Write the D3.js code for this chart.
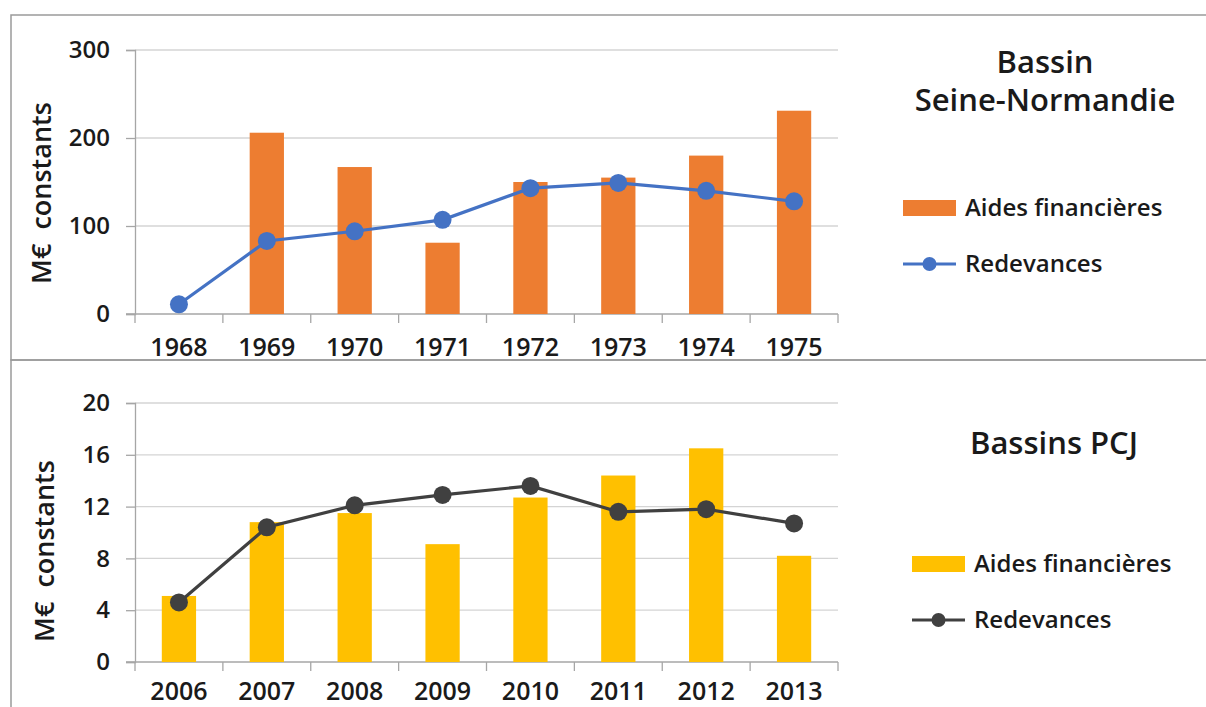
<!DOCTYPE html>
<html>
<head>
<meta charset="utf-8">
<script src="https://cdn.jsdelivr.net/npm/d3@7"></script>
<style>
  body { margin: 0; background: #fff; }
  text { font-family: "Open Sans", sans-serif; fill: #1a1a1a; }
</style>
</head>
<body>
<div id="chart"></div>
<script>
// top panel : Bassin Seine-Normandie
const yearsSN = ["1968", "1969", "1970", "1971", "1972", "1973", "1974", "1975"];
const aidesSN = [null, 206, 167, 81, 150, 155, 180, 231];
const redevSN = [11, 83, 94, 107, 143, 149, 140, 128];
const ticksSN = [0, 100, 200, 300];

// bottom panel : Bassins PCJ
const yearsPCJ = ["2006", "2007", "2008", "2009", "2010", "2011", "2012", "2013"];
const aidesPCJ = [5.1, 10.8, 11.5, 9.1, 12.7, 14.4, 16.5, 8.2];
const redevPCJ = [4.6, 10.4, 12.1, 12.9, 13.6, 11.6, 11.8, 10.7];
const ticksPCJ = [0, 4, 8, 12, 16, 20];

const legendLabels = ["Aides financières", "Redevances"];

const svg = d3
  .select("#chart")
  .append("svg")
  .attr("width", 1206)
  .attr("height", 707);

svg.append("rect").attr("width", 1206).attr("height", 707).attr("fill", "#fff");

// panel frames
svg.append("rect")
  .attr("x", 11).attr("y", 15).attr("width", 1210).attr("height", 345)
  .attr("fill", "none").attr("stroke", "#9a9a9a").attr("stroke-width", 1.5);
svg.append("rect")
  .attr("x", 11).attr("y", 360).attr("width", 1210).attr("height", 360)
  .attr("fill", "none").attr("stroke", "#9a9a9a").attr("stroke-width", 1.5);

function drawPanel(cfg) {
  const g = svg.append("g");

  const x = d3.scaleBand().domain(cfg.years).range([135, 838]);
  const y = d3.scaleLinear().domain(cfg.domain).range([cfg.y0, cfg.y1]);
  const step = x.step();
  const barW = step * 0.39;

  // gridlines
  g.selectAll("line.grid")
    .data(cfg.ticks.filter((t) => t > 0))
    .enter()
    .append("line")
    .attr("x1", 135)
    .attr("x2", 838)
    .attr("y1", (d) => y(d))
    .attr("y2", (d) => y(d))
    .attr("stroke", "#d4d4d4")
    .attr("stroke-width", 1.3);

  // y axis
  const yAxis = g.append("g")
    .attr("transform", "translate(135,0)")
    .call(d3.axisLeft(y).tickValues(cfg.ticks).tickSize(9).tickPadding(16));
  yAxis.select(".domain").attr("stroke", "#a6a6a6").attr("stroke-width", 1.3);
  yAxis.selectAll(".tick line").attr("stroke", "#a6a6a6").attr("stroke-width", 1.3);
  yAxis.selectAll(".tick text")
    .attr("fill", "#1a1a1a")
    .style("font-size", "24px")
    .style("font-weight", 600)
    .style("font-family", "'Open Sans', sans-serif");

  // x axis (ticks between categories, like Excel)
  g.append("line")
    .attr("x1", 126).attr("x2", 838)
    .attr("y1", y(0)).attr("y2", y(0))
    .attr("stroke", "#a6a6a6").attr("stroke-width", 1.3);
  const bounds = cfg.years.map((d) => x(d)).concat([x(cfg.years[cfg.years.length - 1]) + step]);
  g.selectAll("line.xtick")
    .data(bounds)
    .enter()
    .append("line")
    .attr("x1", (d) => d).attr("x2", (d) => d)
    .attr("y1", y(0)).attr("y2", y(0) + 9)
    .attr("stroke", "#a6a6a6").attr("stroke-width", 1.3);
  g.selectAll("text.xlab")
    .data(cfg.years)
    .enter()
    .append("text")
    .attr("x", (d) => x(d) + step / 2)
    .attr("y", cfg.labelY)
    .attr("text-anchor", "middle")
    .style("font-size", "25px")
    .style("font-weight", 600)
    .text((d) => d);

  // bars
  g.selectAll("rect.bar")
    .data(cfg.years.map((d, i) => ({ year: d, v: cfg.aides[i] })).filter((d) => d.v != null))
    .enter()
    .append("rect")
    .attr("x", (d) => x(d.year) + step / 2 - barW / 2)
    .attr("width", barW)
    .attr("y", (d) => y(d.v))
    .attr("height", (d) => y(0) - y(d.v))
    .attr("fill", cfg.barColor);

  // line + points
  const pts = cfg.years.map((d, i) => ({ year: d, v: cfg.redev[i] }));
  const line = d3.line()
    .x((d) => x(d.year) + step / 2)
    .y((d) => y(d.v));
  g.append("path")
    .datum(pts)
    .attr("d", line)
    .attr("fill", "none")
    .attr("stroke", cfg.lineColor)
    .attr("stroke-width", 3.2);
  g.selectAll("circle.pt")
    .data(pts)
    .enter()
    .append("circle")
    .attr("cx", (d) => x(d.year) + step / 2)
    .attr("cy", (d) => y(d.v))
    .attr("r", 9)
    .attr("fill", cfg.lineColor);

  // y title
  g.append("text")
    .attr("transform", `translate(${cfg.titleX},${cfg.titleY}) rotate(-90)`)
    .attr("text-anchor", "middle")
    .attr("dy", "0.35em")
    .style("font-size", "27px")
    .style("font-weight", 600)
    .style("white-space", "pre")
    .text("M€  constants");

  // panel title
  cfg.title.forEach((t, i) => {
    g.append("text")
      .attr("x", cfg.legX + 142)
      .attr("y", cfg.titleBase[i])
      .attr("text-anchor", "middle")
      .style("font-size", "31px")
      .style("font-weight", 600)
      .text(t);
  });

  // legend
  const lg = g.append("g").attr("transform", `translate(${cfg.legX},${cfg.legY})`);
  lg.append("rect")
    .attr("x", 0).attr("y", -8).attr("width", 53).attr("height", 16)
    .attr("fill", cfg.barColor);
  lg.append("line")
    .attr("x1", 0).attr("x2", 53).attr("y1", 56).attr("y2", 56)
    .attr("stroke", cfg.lineColor).attr("stroke-width", 3.2);
  lg.append("circle")
    .attr("cx", 26.5).attr("cy", 56).attr("r", 7)
    .attr("fill", cfg.lineColor);
  lg.selectAll("text.leg")
    .data(legendLabels)
    .enter()
    .append("text")
    .attr("x", 62)
    .attr("y", (d, i) => i * 56)
    .attr("dy", "0.35em")
    .style("font-size", "24px")
    .style("font-weight", 600)
    .text((d) => d);
}

drawPanel({
  years: yearsSN, aides: aidesSN, redev: redevSN, ticks: ticksSN,
  domain: [0, 300], y0: 314, y1: 50, labelY: 356,
  barColor: "#ED7D31", lineColor: "#4472C4",
  titleX: 42, titleY: 193,
  title: ["Bassin", "Seine-Normandie"], titleBase: [73, 111],
  legX: 903, legY: 208,
});

drawPanel({
  years: yearsPCJ, aides: aidesPCJ, redev: redevPCJ, ticks: ticksPCJ,
  domain: [0, 20], y0: 662, y1: 403, labelY: 700,
  barColor: "#FFC000", lineColor: "#404040",
  titleX: 45, titleY: 551,
  title: ["Bassins PCJ"], titleBase: [454],
  legX: 912, legY: 564,
});
</script>
</body>
</html>
